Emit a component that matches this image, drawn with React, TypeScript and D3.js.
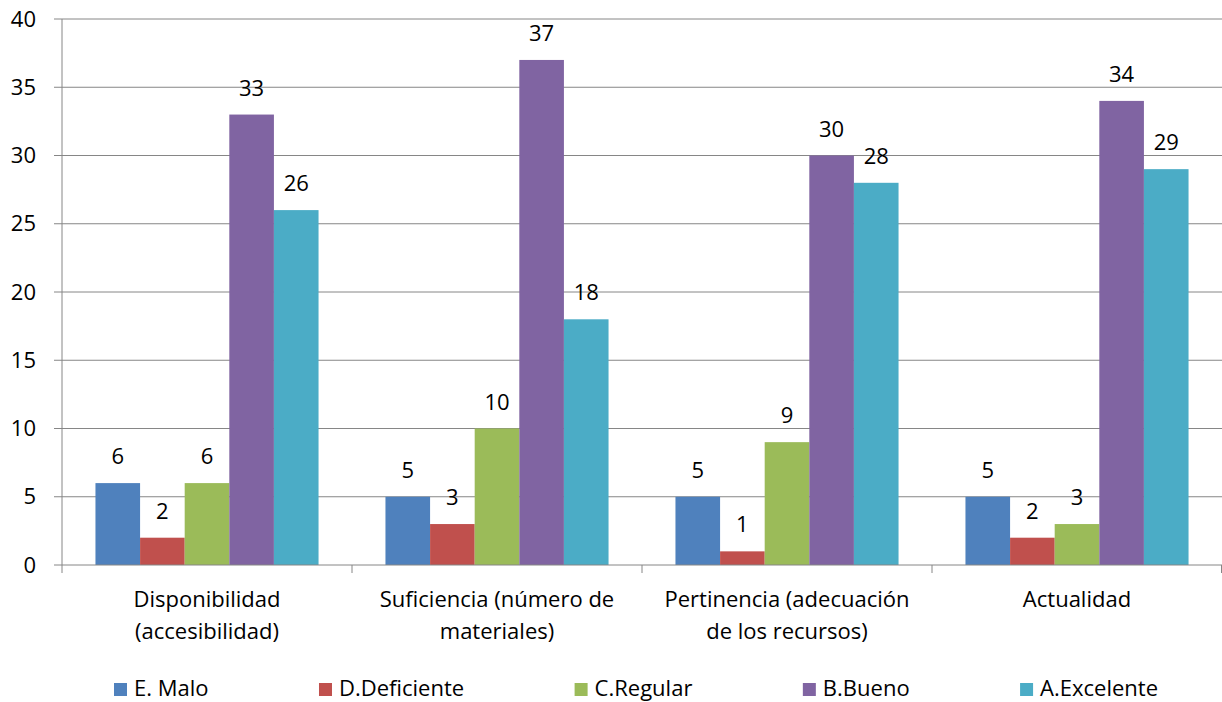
import { useEffect, useRef } from 'react';
import * as d3 from 'd3';

const categories = [
  ['Disponibilidad', '(accesibilidad)'],
  ['Suficiencia (número de', 'materiales)'],
  ['Pertinencia (adecuación', 'de los recursos)'],
  ['Actualidad'],
];
const seriesNames = ['E. Malo', 'D.Deficiente', 'C.Regular', 'B.Bueno', 'A.Excelente'];
const seriesColors = ['#4F81BD', '#C0504D', '#9BBB59', '#8064A2', '#4BACC6'];
const malo = [6, 5, 5, 5];
const deficiente = [2, 3, 1, 2];
const regular = [6, 10, 9, 3];
const bueno = [33, 37, 30, 34];
const excelente = [26, 18, 28, 29];
const yTicks = [0, 5, 10, 15, 20, 25, 30, 35, 40];

const W = 1222;
const H = 702;
const FONT = '"Open Sans", sans-serif';
const FS = '22px';

export default function App() {
  const svgRef = useRef<SVGSVGElement>(null);

  useEffect(() => {
    if (!svgRef.current) return;
    const svg = d3.select(svgRef.current);
    svg.selectAll('*').remove();

    const values = [malo, deficiente, regular, bueno, excelente];
    const left = 62;
    const right = 1222;
    const top = 19;
    const bottom = 565;

    const x0 = d3.scaleBand<number>().domain(d3.range(categories.length)).range([left, right]).padding(0);
    const x1 = d3
      .scaleBand<number>()
      .domain(d3.range(seriesNames.length))
      .range([0, x0.bandwidth()])
      .paddingInner(0)
      .paddingOuter(0.75);
    const y = d3.scaleLinear().domain([0, 40]).range([bottom, top]);

    // gridlines
    svg
      .selectAll('.grid')
      .data(yTicks.filter((t) => t > 0))
      .enter()
      .append('line')
      .attr('x1', left)
      .attr('x2', right)
      .attr('y1', (d) => y(d))
      .attr('y2', (d) => y(d))
      .style('stroke', '#868686')
      .style('stroke-width', 1);

    // y tick marks + labels
    svg
      .selectAll('.ytick')
      .data(yTicks)
      .enter()
      .append('line')
      .attr('x1', left - 8)
      .attr('x2', left)
      .attr('y1', (d) => y(d))
      .attr('y2', (d) => y(d))
      .style('stroke', '#868686');

    svg
      .selectAll('.ylab')
      .data(yTicks)
      .enter()
      .append('text')
      .attr('x', 36)
      .attr('y', (d) => y(d))
      .attr('dy', '0.35em')
      .attr('text-anchor', 'end')
      .style('font-family', FONT)
      .style('font-size', FS)
      .style('fill', '#000')
      .text((d) => d);

    // bars
    const groups = svg
      .selectAll('.group')
      .data(categories.map((_, i) => i))
      .enter()
      .append('g')
      .attr('transform', (i) => `translate(${x0(i)},0)`);

    groups
      .selectAll('rect')
      .data((i) => values.map((s, k) => ({ k, v: s[i] })))
      .enter()
      .append('rect')
      .attr('x', (d) => x1(d.k)!)
      .attr('y', (d) => y(d.v))
      .attr('width', x1.bandwidth())
      .attr('height', (d) => y(0) - y(d.v))
      .style('fill', (d) => seriesColors[d.k]);

    groups
      .selectAll('.val')
      .data((i) => values.map((s, k) => ({ k, v: s[i] })))
      .enter()
      .append('text')
      .attr('x', (d) => x1(d.k)! + x1.bandwidth() / 2)
      .attr('y', (d) => y(d.v) - 19)
      .attr('text-anchor', 'middle')
      .style('font-family', FONT)
      .style('font-size', FS)
      .style('fill', '#000')
      .text((d) => d.v);

    // axis lines
    svg
      .append('line')
      .attr('x1', left)
      .attr('x2', left)
      .attr('y1', top)
      .attr('y2', bottom)
      .style('stroke', '#868686');
    svg
      .append('line')
      .attr('x1', left)
      .attr('x2', right)
      .attr('y1', bottom)
      .attr('y2', bottom)
      .style('stroke', '#868686');
    svg
      .selectAll('.xtick')
      .data(d3.range(categories.length + 1))
      .enter()
      .append('line')
      .attr('x1', (i) => Math.min(left + i * x0.step(), right - 0.5))
      .attr('x2', (i) => Math.min(left + i * x0.step(), right - 0.5))
      .attr('y1', bottom)
      .attr('y2', bottom + 8)
      .style('stroke', '#868686');

    // category labels
    const cat = svg
      .selectAll('.cat')
      .data(categories)
      .enter()
      .append('text')
      .attr('text-anchor', 'middle')
      .style('font-family', FONT)
      .style('font-size', FS)
      .style('fill', '#000');
    cat
      .selectAll('tspan')
      .data((lines, i) => lines.map((l) => ({ l, i })))
      .enter()
      .append('tspan')
      .attr('x', (d) => x0(d.i)! + x0.bandwidth() / 2)
      .attr('y', (_, j) => 607 + j * 32)
      .text((d) => d.l);

    // legend, spread between x=114 and x=1158
    const legend = svg.append('g');
    const items = seriesNames.map((name, k) => {
      const g = legend.append('g');
      g.append('rect').attr('width', 13).attr('height', 13).attr('y', 683).style('fill', seriesColors[k]);
      const t = g
        .append('text')
        .attr('x', 20)
        .attr('y', 696)
        .style('font-family', FONT)
        .style('font-size', FS)
        .style('fill', '#000')
        .text(name);
      return { g, w: 20 + (t.node() as SVGTextElement).getComputedTextLength() };
    });
    const gap = (1158 - 114 - d3.sum(items, (d) => d.w)) / (items.length - 1);
    let cx = 114;
    items.forEach((it) => {
      it.g.attr('transform', `translate(${cx},0)`);
      cx += it.w + gap;
    });
  }, []);

  return (
    <svg
      ref={svgRef}
      width={W}
      height={H}
      style={{ position: 'absolute', left: 0, top: 0, background: '#fff' }}
    />
  );
}
